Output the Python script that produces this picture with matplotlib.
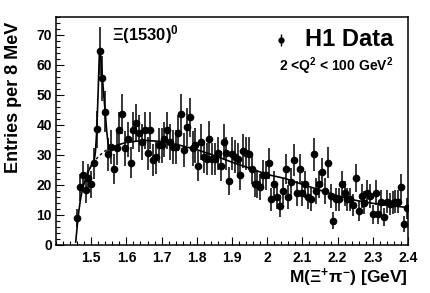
import numpy as np
import matplotlib
matplotlib.use("Agg")
import matplotlib.pyplot as plt
from matplotlib.ticker import MultipleLocator, FixedLocator

plt.rcParams['font.family'] = ['Liberation Sans', 'DejaVu Sans']
plt.rcParams['font.weight'] = 'bold'
plt.rcParams['mathtext.fontset'] = 'custom'
plt.rcParams['mathtext.rm'] = 'Liberation Sans:bold'
plt.rcParams['mathtext.it'] = 'Liberation Sans:bold'
plt.rcParams['mathtext.bf'] = 'Liberation Sans:bold'

# ---- data: 8 MeV bins, centres from 1.460 to 2.396 GeV ----
bin_lo = 1.456
bin_width = 0.008
counts = [9.1, 19.2, 23.3, 18.2, 22.2, 20.3, 27.2, 38.6, 64.8, 55.6,
          44.5, 30.2, 32.6, 25.2, 32.4, 38.3, 43.6, 32.2, 35.2, 27.4,
          38.3, 40.6, 37.2, 34.4, 38.3, 30.6, 38.3, 28.3, 29.2, 33.3,
          33.3, 35.2, 38.3, 34.4, 32.8, 32.8, 37.4, 43.6, 31.7, 39.4,
          42.6, 32.2, 33.3, 26.3, 34.4, 29.4, 28.6, 35.3, 28.6, 28.6,
          30.6, 26.3, 34.4, 30.6, 21.3, 30.5, 29.5, 28.6, 23.3, 31.4,
          30.6, 30.5, 25.2, 20.5, 20.2, 19.3, 23.4, 23.3, 27.2, 15.2,
          20.3, 16.1, 13.1, 18.1, 25.2, 16.1, 21.1, 28.3, 17.2, 25.2,
          17.2, 20.3, 16.1, 15.2, 30.3, 18.1, 20.3, 24.2, 18.1, 27.4,
          16.3, 8.1, 15.2, 15.2, 20.3, 17.2, 15.2, 15.2, 13.3, 22.4,
          11.3, 16.3, 14.1, 17.4, 16.3, 10.3, 17.4, 10.3, 14.4, 9.2,
          14.4, 13.7, 14.1, 14.4, 14.4, 19.2, 7.0, 12.2]
errors = [3.0, 4.4, 4.8, 4.3, 4.7, 4.5, 5.2, 6.2, 8.0, 7.5,
          6.7, 5.5, 5.7, 5.0, 5.7, 6.2, 6.6, 5.7, 5.9, 5.2,
          6.2, 6.4, 6.1, 5.9, 6.2, 5.5, 6.2, 5.3, 5.4, 5.8,
          5.8, 5.9, 6.2, 5.9, 5.7, 5.7, 6.1, 6.6, 5.6, 6.3,
          6.5, 5.7, 5.8, 5.1, 5.9, 5.4, 5.3, 5.9, 5.3, 5.3,
          5.5, 5.1, 5.9, 5.5, 4.6, 5.5, 5.4, 5.3, 4.8, 5.6,
          5.5, 5.5, 5.0, 4.5, 4.5, 4.4, 4.8, 4.8, 5.2, 3.9,
          4.5, 4.0, 3.6, 4.3, 5.0, 4.0, 4.6, 5.3, 4.1, 5.0,
          4.1, 4.5, 4.0, 3.9, 5.5, 4.3, 4.5, 4.9, 4.3, 5.2,
          4.0, 2.8, 3.9, 3.9, 4.5, 4.1, 3.9, 3.9, 3.6, 4.7,
          3.4, 4.0, 3.8, 4.2, 4.0, 3.2, 4.2, 3.2, 3.8, 3.0,
          3.8, 3.7, 3.8, 3.8, 3.8, 4.4, 2.6, 3.5]

# fit curve (signal + background)
fit_x = [1.456, 1.460, 1.465, 1.470, 1.476, 1.484, 1.492, 1.500, 1.508,
         1.512, 1.516, 1.520, 1.5235, 1.527, 1.532, 1.536, 1.540, 1.544,
         1.548, 1.552, 1.556]
fit_y = [1.0, 6.0, 11.5, 15.5, 19.0, 22.0, 24.5, 26.5, 27.8,
         31.0, 38.5, 52.0, 65.0, 63.0, 55.5, 49.5, 44.0, 38.0,
         33.8, 32.5, 32.5]
# background-only part of the fit
bkg_x = [1.488, 1.500, 1.520, 1.540, 1.556, 1.580, 1.600, 1.650, 1.700,
         1.750, 1.800, 1.850, 1.900, 1.950, 2.000, 2.050, 2.100, 2.150,
         2.200, 2.250, 2.300, 2.350, 2.400]
bkg_y = [24.0, 26.3, 29.5, 31.4, 32.5, 33.5, 34.2, 34.9, 34.5,
         33.3, 31.8, 29.8, 27.6, 25.6, 23.5, 22.2, 20.2, 18.3,
         16.4, 14.9, 13.9, 13.1, 12.5]
bkg_dashed_end = 1.556

W, H = 431, 293
fig = plt.figure(figsize=(W / 100, H / 100), dpi=100)
ax = fig.add_axes([56 / W, 1 - 245 / H, (408 - 56) / W, (245 - 17) / H])

centres = bin_lo + bin_width * (np.arange(len(counts)) + 0.5)
ax.errorbar(centres, counts, yerr=errors, fmt='o', color='black',
            ms=4.5, elinewidth=1.1, capsize=0, zorder=3)

ax.plot(fit_x, fit_y, color='black', lw=1.2, zorder=4)
bx = np.array(bkg_x)
by = np.array(bkg_y)
m1 = bx <= bkg_dashed_end
m2 = bx >= bkg_dashed_end
ax.plot(bx[m1], by[m1], color='black', lw=1.0, ls=(0, (2, 2)), zorder=4)
ax.plot(bx[m2], by[m2], color='black', lw=1.2, zorder=4)

ax.set_xlim(1.4, 2.4)
ax.set_ylim(0, 76)
ax.xaxis.set_major_locator(FixedLocator([1.5, 1.6, 1.7, 1.8, 1.9, 2.0, 2.1, 2.2, 2.3, 2.4]))
ax.xaxis.set_minor_locator(MultipleLocator(0.02))
ax.yaxis.set_major_locator(MultipleLocator(10))
ax.yaxis.set_minor_locator(MultipleLocator(2))
ax.set_xticklabels(['1.5', '1.6', '1.7', '1.8', '1.9', '2', '2.1', '2.2', '2.3', '2.4'])
ax.tick_params(which='both', direction='in', top=False, right=False, width=0.8)
ax.tick_params(which='major', length=6, labelsize=10, pad=3)
ax.tick_params(which='minor', length=3)
ax.tick_params(axis='x', which='major', pad=4)
for lab in ax.get_xticklabels() + ax.get_yticklabels():
    lab.set_fontweight('bold')
for s in ax.spines.values():
    s.set_linewidth(1.1)

fig.text(14 / W, 1 - 97 / H, 'Entries per 8 MeV', rotation=90, ha='center',
         va='center', fontsize=13, fontweight='bold')
fig.text(408 / W, 1 - 283 / H, r'M($\Xi^{+}\pi^{-}$) [GeV]', ha='right',
         va='baseline', fontsize=12.5, fontweight='bold')

ax.text((112 - 56) / 352, (245 - 35) / 228, r'$\Xi$(1530)$^{0}$', ha='left',
        va='center', fontsize=12, fontweight='bold', transform=ax.transAxes)

# legend-like annotation
ax.errorbar([(281 - 56) / 352], [(245 - 40) / 228], yerr=[6 / 228], fmt='o',
            color='black', ms=3.5, elinewidth=1.0, capsize=0,
            transform=ax.transAxes, clip_on=False)
ax.text((393 - 56) / 352, (245 - 39) / 228, 'H1 Data', ha='right', va='center',
        fontsize=17, fontweight='bold', transform=ax.transAxes)
ax.text((393 - 56) / 352, (245 - 66) / 228, r'2 <Q$^{2}$ < 100 GeV$^{2}$',
        ha='right', va='center', fontsize=10, fontweight='bold',
        transform=ax.transAxes)

fig.savefig('out.png', dpi=100)
